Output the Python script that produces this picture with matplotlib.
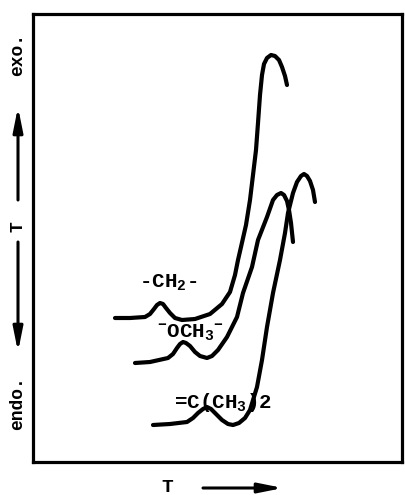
import matplotlib
matplotlib.use("Agg")
import matplotlib.pyplot as plt

# DTA traces: temperature (arbitrary units) vs. temperature difference (arbitrary units)
ch2_t = [82, 97, 112, 117, 121, 124, 127, 130, 133, 137, 142, 149, 162, 177, 189, 197,
         202, 205, 208, 213, 217, 220, 223, 225, 227, 229, 231, 234, 238, 242, 246,
         249, 252, 254]
ch2_dt = [144, 144, 145, 148, 153, 157, 159, 158, 154, 149, 144, 142, 143, 148, 158, 170,
          187, 202, 215, 237, 262, 287, 312, 339, 367, 387, 398, 404, 407, 406, 402,
          395, 386, 377]

och3_t = [102, 117, 135, 140, 144, 147, 150, 153, 157, 162, 167, 174, 179, 185, 194,
          204, 210, 219, 225, 234, 240, 244, 248, 251, 254, 256, 258, 260]
och3_dt = [99, 100, 104, 108, 114, 118, 120, 119, 116, 110, 106, 104, 106, 112, 125,
           145, 169, 195, 222, 245, 262, 267, 269, 267, 261, 252, 239, 220]

cme2_t = [120, 137, 154, 160, 165, 170, 174, 178, 183, 189, 195, 200, 206, 212, 217,
          224, 229, 234, 240, 247, 252, 255, 260, 264, 268, 271, 274, 277, 280, 282]
cme2_dt = [37, 38, 40, 44, 49, 53, 55, 53, 48, 42, 38, 37, 39, 44, 52,
           75, 102, 135, 169, 202, 229, 249, 269, 280, 286, 288, 286, 281, 272, 260]

labels = ["-CH$_2$-", "$^{-}$OCH$_3$$^{-}$", "=C(CH$_3$)2"]
label_pos = [(135, 179), (157, 130), (190, 60)]

W, H = 406, 495
plt.rcParams["font.family"] = ["Liberation Mono", "DejaVu Sans"]
plt.rcParams["font.weight"] = "bold"
plt.rcParams["mathtext.fontset"] = "custom"
plt.rcParams["mathtext.rm"] = "Liberation Mono:bold"
plt.rcParams["mathtext.it"] = "Liberation Mono:bold"
plt.rcParams["mathtext.bf"] = "Liberation Mono:bold"
plt.rcParams["mathtext.default"] = "rm"

fig = plt.figure(figsize=(W / 100, H / 100), dpi=100)
left, right, top, bottom = 33, 402, 14, 462
ax = fig.add_axes([left / W, 1 - bottom / H, (right - left) / W, (bottom - top) / H])
ax.set_xlim(0, right - left)
ax.set_ylim(0, bottom - top)
ax.set_xticks([])
ax.set_yticks([])
for s in ax.spines.values():
    s.set_linewidth(2.3)

line_kw = dict(color="black", lw=3.0, solid_capstyle="round", solid_joinstyle="round")
ax.plot(ch2_t, ch2_dt, **line_kw)
ax.plot(och3_t, och3_dt, **line_kw)
ax.plot(cme2_t, cme2_dt, **line_kw)

for txt, (x, y) in zip(labels, label_pos):
    ax.text(x, y, txt, ha="center", va="center", fontsize=15, fontweight="bold")

# Vertical axis annotation
side_kw = dict(rotation=90, ha="center", va="center", fontsize=13, fontweight="bold")
fig.text(18 / W, 1 - 55 / H, "exo.", **side_kw)
fig.text(18 / W, 1 - 227 / H, "T", **side_kw)
fig.text(18 / W, 1 - 403 / H, "endo.", **side_kw)

arrow_kw = dict(arrowstyle="-|>,head_length=0.8,head_width=0.16", lw=2.2,
                color="black", mutation_scale=18, shrinkA=0, shrinkB=0)
ax.annotate("", xy=(18, H - 107), xytext=(18, H - 200), xycoords="figure pixels",
            textcoords="figure pixels", arrowprops=arrow_kw)
ax.annotate("", xy=(18, H - 352), xytext=(18, H - 242), xycoords="figure pixels",
            textcoords="figure pixels", arrowprops=arrow_kw)

# Horizontal axis annotation
fig.text(167 / W, 1 - 487 / H, "T", ha="center", va="center", fontsize=14,
         fontweight="bold")
ax.annotate("", xy=(283, H - 488), xytext=(203, H - 488), xycoords="figure pixels",
            textcoords="figure pixels", arrowprops=arrow_kw)

fig.savefig("out.png", dpi=100)
